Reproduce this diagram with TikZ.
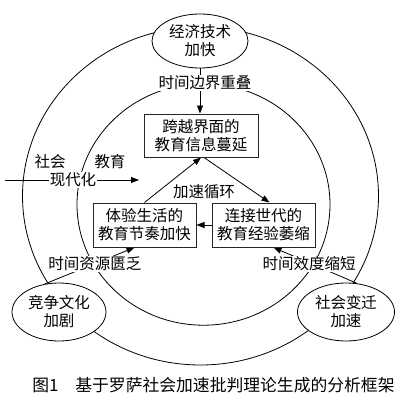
\documentclass[tikz,border=0pt]{standalone}
\usepackage{fontspec}
\setmainfont{Noto Sans CJK SC}
\usetikzlibrary{shapes.geometric,arrows.meta,backgrounds}
\begin{document}
\begin{tikzpicture}[x=1pt,y=-1pt,
  every node/.style={font=\fontsize{15.5}{18}\selectfont, text=black},
  ell/.style={ellipse, draw, fill=white, line width=0.8pt, inner sep=0pt, align=center},
  box/.style={rectangle, draw=black!85, fill=white, line width=1pt, inner sep=0pt, align=center},
  lbl/.style={fill=white, inner sep=1pt},
  arr/.style={line width=0.8pt, -{Triangle[length=8pt,width=6pt]}},
  ring/.style={line width=0.8pt}]
\useasboundingbox (0,0) rectangle (400,400);
% ellipses
\node[ell, minimum width=96pt, minimum height=54pt] (et) at (200,41) {经济技术\\加快};
\node[ell, minimum width=94pt, minimum height=58pt] (el) at (59,312) {竞争文化\\加剧};
\node[ell, minimum width=97pt, minimum height=58pt] (er) at (346,312) {社会变迁\\加速};
% boxes
\node[box, minimum width=114pt, minimum height=43pt] (b1) at (201,135.5) {跨越界面的\\教育信息蔓延};
\node[box, minimum width=103pt, minimum height=44pt] (bl) at (144.5,225) {体验生活的\\教育节奏加快};
\node[box, minimum width=103pt, minimum height=44pt] (br) at (263.5,225) {连接世代的\\教育经验萎缩};
% labels
\node[lbl] (t1) at (205,83) {时间边界重叠};
\node[lbl] (t2) at (95,264) {时间资源匮乏};
\node[lbl] (t3) at (309,264) {时间效度缩短};
\node[lbl] (t4) at (204,192) {加速循环};
\node (s1) at (50,162) {社会};
\node (s2) at (110,162) {教育};
\node[lbl] (s3) at (73,180) {现代化};
\coordinate (a0) at (5,180);
\coordinate (a1) at (139,180);
\node[font=\fontsize{16.8}{20}\selectfont] (cap) at (213.5,385) {图1　基于罗萨社会加速批判理论生成的分析框架};
\begin{pgfonlayer}{background}
\draw[ring] (200.5,196) ellipse [x radius=178, y radius=169];
\draw[ring] (203.5,204.5) ellipse [x radius=126.5, y radius=120.7];
\draw[arr] (et.south) -- (et.south |- b1.north);
\draw[arr] (bl.north) -- (b1.south);
\draw[arr] ([xshift=3pt]b1.south) -- ([xshift=6pt]br.north);
\draw[arr] (br.west) -- (bl.east);
\draw[arr] (el.117) -- ([xshift=-10pt]bl.south);
\draw[arr] (er.69) -- ([xshift=10pt]br.south);
\draw[arr] (a0) -- (a1);
\end{pgfonlayer}
\end{tikzpicture}
\end{document}
